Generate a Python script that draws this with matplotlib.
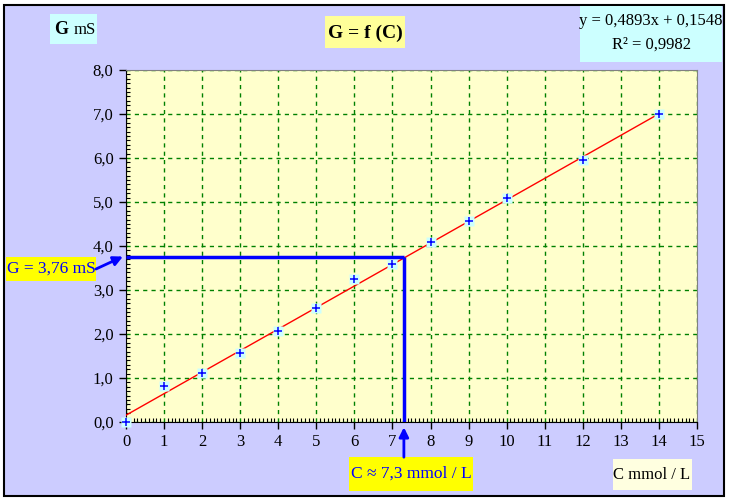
import matplotlib
matplotlib.use('Agg')
import matplotlib.pyplot as plt
import numpy as np
from matplotlib.patches import Rectangle
from matplotlib.ticker import MultipleLocator, FuncFormatter

plt.rcParams['font.family'] = ['Liberation Serif', 'DejaVu Serif']

# données mesurées
conc = [0, 1, 2, 3, 4, 5, 6, 7, 8, 9, 10, 12, 14]
cond = [0.0, 0.82, 1.11, 1.57, 2.07, 2.58, 3.24, 3.58, 4.10, 4.56, 5.08, 5.96, 7.0]
slope = 0.4893
intercept = 0.1548
r2 = 0.9982
g_read = 3.76
c_read = 7.3
x_ticks = list(range(0, 16))
y_ticks = [0, 1, 2, 3, 4, 5, 6, 7, 8]

W, H = 730, 501
fig = plt.figure(figsize=(W / 100, H / 100), dpi=100, facecolor='white')


def px(x, y):
    # pixel (depuis le haut) -> fraction de figure
    return x / W, 1 - y / H


def box(x, y, w, h, color):
    fig.patches.append(Rectangle((x / W, 1 - (y + h) / H), w / W, h / H,
                                 transform=fig.transFigure, facecolor=color,
                                 edgecolor='none', zorder=1))


# cadre général
fig.patches.append(Rectangle((4 / W, 1 - 496 / H), 720 / W, 491 / H,
                             transform=fig.transFigure, facecolor='#CCCCFF',
                             edgecolor='black', linewidth=1.5, zorder=-10))

ax = fig.add_axes([126 / W, 1 - 422 / H, 571 / W, 352 / H])
ax.set_zorder(2)
ax.set_facecolor('#FFFFCC')
ax.set_xlim(0, 15)
ax.set_ylim(0, 8)

ax.xaxis.set_minor_locator(MultipleLocator(0.1))
ax.yaxis.set_minor_locator(MultipleLocator(0.1))
ax.set_xticks(x_ticks)
ax.set_yticks(y_ticks)
ax.yaxis.set_major_formatter(FuncFormatter(lambda v, p: f"{v:.1f}".replace('.', ',')))
ax.tick_params(which='major', direction='out', length=5, width=1, labelsize=12, pad=4)
ax.tick_params(which='minor', direction='in', length=3, width=0.8)
ax.grid(True, which='major', color='#008000', linestyle=(0, (3, 3)), linewidth=1)
ax.set_axisbelow(True)
for s in ['top', 'right']:
    ax.spines[s].set_color('#808080')
for s in ['left', 'bottom']:
    ax.spines[s].set_color('black')

# droite de régression
xf = np.array([0, 14])
ax.plot(xf, slope * xf + intercept, color='red', linewidth=1, zorder=3)

# points
ax.plot(conc, cond, linestyle='none', marker='s', markersize=7,
        color='#CCFFFF', markeredgecolor='none', zorder=4, clip_on=False)
ax.plot(conc, cond, linestyle='none', marker='+', markersize=6,
        color='blue', markeredgewidth=1.1, zorder=5, clip_on=False)

# lecture graphique
ax.plot([0, c_read], [g_read, g_read], color='blue', linewidth=2.5, zorder=6,
        solid_capstyle='butt')
ax.plot([c_read, c_read], [g_read, 0], color='blue', linewidth=2.5, zorder=6,
        solid_capstyle='butt')

ax.annotate('', xy=(-0.08, g_read), xycoords='data',
            xytext=(96, H - 269), textcoords='figure pixels',
            arrowprops=dict(arrowstyle='-|>', color='blue', lw=2, mutation_scale=14,
                            shrinkA=0, shrinkB=0),
            annotation_clip=False)
ax.annotate('', xy=(c_read, -0.12), xycoords='data',
            xytext=(c_read, -0.8), textcoords='data',
            arrowprops=dict(arrowstyle='-|>', color='blue', lw=2, mutation_scale=14,
                            shrinkA=0, shrinkB=0),
            annotation_clip=False)

# étiquettes
box(50, 14, 47, 30, '#CCFFFF')
fig.text(*px(54, 30), 'G', fontsize=13, fontweight='bold', va='center', ha='left')
fig.text(*px(74, 30), 'mS', fontsize=12, va='center', ha='left')

box(325, 16, 80, 32, '#FFFF99')
fig.text(*px(365, 33), 'G = f (C)', fontsize=14, fontweight='bold', ha='center', va='center')

box(580, 6, 142, 56, '#CCFFFF')
fig.text(*px(651, 21), f'y = {slope:.4f}x + {intercept:.4f}'.replace('.', ','),
         fontsize=12, ha='center', va='center')
fig.text(*px(651, 45), f'R² = {r2:.4f}'.replace('.', ','),
         fontsize=12, ha='center', va='center')

box(6, 257, 90, 24, '#FFFF00')
fig.text(*px(51, 269), f'G = {g_read:.2f} mS'.replace('.', ','), fontsize=12.5,
         color='blue', ha='center', va='center')

box(349, 457, 124, 34, '#FFFF00')
fig.text(*px(411, 474), f'C ≈ {c_read:.1f} mmol / L'.replace('.', ','), fontsize=12.5,
         color='blue', ha='center', va='center')

box(613, 459, 79, 31, '#FFFFE0')
fig.text(*px(652, 475), 'C mmol / L', fontsize=12, ha='center', va='center')

fig.savefig('out.png', dpi=100)
